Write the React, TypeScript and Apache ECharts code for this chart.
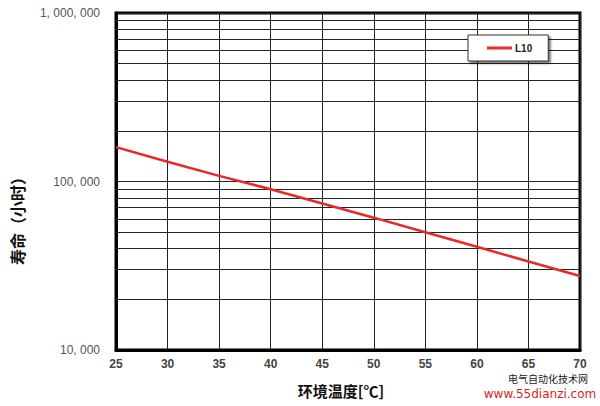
import React, { useEffect, useRef } from "react";
import * as echarts from "echarts";

const temperatures = [25, 30, 35, 40, 45, 50, 55, 60, 65, 70];
const lifeL10 = [160000, 131000, 108000, 90000, 74000, 61000, 50000, 41000, 33500, 27500];
const minorGridValues = [
  20000, 30000, 40000, 50000, 60000, 70000, 80000, 90000,
  200000, 300000, 400000, 500000, 600000, 700000, 800000, 900000,
];
const seriesName = "L10";
const xAxisName = "环境温度[℃]";
const yAxisName = "寿命（小时）";
const watermarkCn = "电气自动化技术网";
const watermarkUrl = "www.55dianzi.com";

const fmtY = (v: number) => String(Math.round(v)).replace(/\B(?=(\d{3})+(?!\d))/g, ", ");

export default function App() {
  const ref = useRef<HTMLDivElement>(null);
  useEffect(() => {
    if (!ref.current) return;
    const chart = echarts.init(ref.current, null, { renderer: "svg" });
    chart.setOption({
      animation: false,
      backgroundColor: "#ffffff",
      grid: {
        left: 116,
        right: 20,
        top: 13,
        bottom: 56,
        show: true,
        borderColor: "#000",
        borderWidth: 3,
        backgroundColor: "transparent",
      },
      legend: {
        show: true,
        left: 468,
        top: 35,
        orient: "horizontal",
        data: [seriesName],
        itemWidth: 25,
        itemHeight: 3,
        itemGap: 4,
        icon: "rect",
        padding: [8, 16, 8, 19],
        backgroundColor: "#fff",
        borderColor: "#333",
        borderWidth: 1,
        shadowColor: "rgba(0,0,0,0.55)",
        shadowBlur: 2,
        shadowOffsetX: 2,
        shadowOffsetY: 2,
        textStyle: {
          fontFamily: "Liberation Sans, Arial, sans-serif",
          fontSize: 10,
          fontWeight: "bold",
          color: "#222",
          padding: [0, 0, 0, -2],
        },
      },
      xAxis: {
        type: "value",
        min: 25,
        max: 70,
        interval: 5,
        axisLine: { show: true, lineStyle: { color: "#000", width: 3 } },
        axisTick: { show: false },
        splitLine: { show: true, lineStyle: { color: "#222", width: 1 } },
        axisLabel: {
          margin: 8,
          fontFamily: "Liberation Sans, Arial, sans-serif",
          fontSize: 12,
          fontWeight: "bold",
          color: "#444",
        },
      },
      yAxis: {
        type: "log",
        logBase: 10,
        min: 10000,
        max: 1000000,
        axisLine: { show: true, lineStyle: { color: "#000", width: 3 } },
        axisTick: { show: false },
        splitLine: { show: true, lineStyle: { color: "#222", width: 1 } },
        axisLabel: {
          margin: 16,
          formatter: (v: number) => fmtY(v),
          fontFamily: "Liberation Sans, Arial, sans-serif",
          fontSize: 12,
          color: "#555",
        },
      },
      series: [
        {
          name: seriesName,
          type: "line",
          data: temperatures.map((t, i) => [t, lifeL10[i]]),
          showSymbol: false,
          symbol: "none",
          lineStyle: { color: "#e8282b", width: 2.5 },
          itemStyle: { color: "#e8282b" },
          z: 5,
          markLine: {
            silent: true,
            symbol: "none",
            label: { show: false },
            lineStyle: { color: "#222", width: 1, type: "solid" },
            data: minorGridValues.map((v) => ({ yAxis: v })),
            z: 1,
          },
        },
      ],
      graphic: [
        {
          type: "text",
          x: 17,
          y: 217,
          rotation: Math.PI / 2,
          style: {
            text: yAxisName,
            fontFamily: "Noto Sans CJK SC",
            fontSize: 16,
            fontWeight: "bold",
            fill: "#111",
            align: "center",
            verticalAlign: "middle",
          },
        },
        {
          type: "text",
          x: 341,
          y: 390,
          style: {
            text: xAxisName,
            fontFamily: "Noto Sans CJK SC",
            fontSize: 15,
            fontWeight: "bold",
            fill: "#111",
            align: "center",
            verticalAlign: "middle",
          },
        },
        {
          type: "text",
          x: 548,
          y: 378,
          style: {
            text: watermarkCn,
            fontFamily: "Noto Sans CJK SC",
            fontSize: 10,
            fill: "#222",
            align: "center",
            verticalAlign: "middle",
          },
        },
        {
          type: "text",
          x: 540,
          y: 394,
          style: {
            text: watermarkUrl,
            fontFamily: "DejaVu Sans, sans-serif",
            fontSize: 12,
            fill: "#d81e1e",
            align: "center",
            verticalAlign: "middle",
          },
        },
      ],
    });
    return () => chart.dispose();
  }, []);
  return (
    <div
      ref={ref}
      style={{ position: "fixed", left: 0, top: 0, width: 600, height: 406 }}
    />
  );
}
